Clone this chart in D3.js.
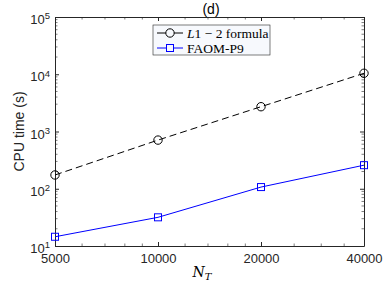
<!DOCTYPE html>
<meta charset="utf-8">
<style>
body { margin: 0; background: #fff; }
text { font-family: "Liberation Sans", Arial, sans-serif; }
.axis path, .axis line { stroke: #262626; }
.axis text { fill: #262626; font-size: 13px; }
</style>
<svg width="390" height="288"></svg>
<script src="https://cdn.jsdelivr.net/npm/d3@7"></script>
<script>

var nT = [5000, 10000, 20000, 40000],
    l12 = [174, 708, 2710, 10400],
    faom = [14.5, 31.7, 107, 258],
    xTicks = [5000, 10000, 20000, 40000],
    xMinor = [6000, 7000, 8000, 9000, 12000, 14000, 16000, 18000, 25000, 30000, 35000],
    yTicks = [10, 100, 1000, 10000, 100000];

var svg = d3.select("svg"),
    margin = {top: 17, right: 26, bottom: 42, left: 55},
    width = 390 - margin.left - margin.right,
    height = 288 - margin.top - margin.bottom,
    g = svg.append("g").attr("transform", "translate(" + margin.left + "," + margin.top + ")");

var x = d3.scaleLog().base(2).domain([5000, 40000]).range([0, width]),
    y = d3.scaleLog().domain([10, 100000]).range([height, 0]);

var yMinor = [];
[10, 100, 1000, 10000].forEach(function(p) {
  for (var k = 2; k <= 9; k++) yMinor.push(p * k);
});

// minor ticks on all four sides
var minor = g.append("g").attr("stroke", "#262626").attr("stroke-width", 0.6);
xMinor.forEach(function(v) {
  minor.append("line").attr("x1", x(v)).attr("x2", x(v)).attr("y1", height).attr("y2", height - 2.5);
  minor.append("line").attr("x1", x(v)).attr("x2", x(v)).attr("y1", 0).attr("y2", 2.5);
});
yMinor.forEach(function(v) {
  minor.append("line").attr("y1", y(v)).attr("y2", y(v)).attr("x1", 0).attr("x2", 2.5);
  minor.append("line").attr("y1", y(v)).attr("y2", y(v)).attr("x1", width).attr("x2", width - 2.5);
});

g.append("g")
    .attr("class", "axis")
    .attr("transform", "translate(0," + height + ")")
    .call(d3.axisBottom(x).tickValues(xTicks).tickSizeInner(-4).tickSizeOuter(0).tickPadding(8).tickFormat(d3.format("d")));

g.append("g")
    .attr("class", "axis")
    .call(d3.axisTop(x).tickValues(xTicks).tickSizeInner(-4).tickSizeOuter(0).tickFormat(""));

var yAxis = g.append("g")
    .attr("class", "axis")
    .call(d3.axisLeft(y).tickValues(yTicks).tickSizeInner(-4).tickSizeOuter(0).tickFormat(""));

g.append("g")
    .attr("class", "axis")
    .attr("transform", "translate(" + width + ",0)")
    .call(d3.axisRight(y).tickValues(yTicks).tickSizeInner(-4).tickSizeOuter(0).tickFormat(""));

yAxis.selectAll(".tick").append("text")
    .attr("x", -5)
    .attr("dy", "0.5em")
    .attr("text-anchor", "end")
    .attr("fill", "#262626")
    .style("font-size", "13px")
    .each(function(d) {
      var t = d3.select(this);
      t.append("tspan").text("10");
      t.append("tspan").attr("dy", "-0.5em").style("font-size", "9.5px").text(Math.round(Math.log10(d)));
    });

var line = d3.line()
    .x(function(d, i) { return x(nT[i]); })
    .y(function(d) { return y(d); });

g.append("path")
    .datum(l12)
    .attr("fill", "none")
    .attr("stroke", "#000")
    .attr("stroke-width", 1)
    .attr("stroke-dasharray", "7,4")
    .attr("d", line);

g.append("path")
    .datum(faom)
    .attr("fill", "none")
    .attr("stroke", "#0000ff")
    .attr("stroke-width", 1)
    .attr("d", line);

g.selectAll(".circ")
    .data(l12)
  .enter().append("circle")
    .attr("cx", function(d, i) { return x(nT[i]); })
    .attr("cy", function(d) { return y(d); })
    .attr("r", 4.2)
    .attr("fill", "none")
    .attr("stroke", "#000");

g.selectAll(".sq")
    .data(faom)
  .enter().append("rect")
    .attr("x", function(d, i) { return x(nT[i]) - 3.5; })
    .attr("y", function(d) { return y(d) - 3.5; })
    .attr("width", 7)
    .attr("height", 7)
    .attr("fill", "none")
    .attr("stroke", "#0000ff");

// title and labels
svg.append("text")
    .attr("x", 211)
    .attr("y", 14)
    .attr("text-anchor", "middle")
    .style("font-size", "14px")
    .attr("fill", "#000")
    .text("(d)");

svg.append("text")
    .attr("x", 202)
    .attr("y", 277)
    .attr("text-anchor", "middle")
    .style("font-family", "'DejaVu Serif', 'Liberation Serif', serif")
    .style("font-style", "italic")
    .style("font-size", "14px")
    .attr("fill", "#000")
    .html('N<tspan dy="3" style="font-size:10px">T</tspan>');

svg.append("text")
    .attr("transform", "translate(24," + (margin.top + height / 2) + ") rotate(-90)")
    .attr("text-anchor", "middle")
    .style("font-size", "14px")
    .attr("fill", "#262626")
    .text("CPU time (s)");

// legend
var leg = svg.append("g").attr("transform", "translate(153,25)");
leg.append("rect")
    .attr("width", 117)
    .attr("height", 30)
    .attr("fill", "#f7f9fd")
    .attr("stroke", "#262626")
    .attr("stroke-width", 0.6);

var legItems = [
  {color: "#000", marker: "circle", label: "1 \u2212 2 formula", italic: "L"},
  {color: "#0000ff", marker: "square", label: "FAOM-P9", italic: ""}
];

legItems.forEach(function(d, i) {
  var cy = 8 + i * 15;
  leg.append("line").attr("x1", 4).attr("x2", 30).attr("y1", cy).attr("y2", cy).attr("stroke", d.color);
  if (d.marker === "circle") {
    leg.append("circle").attr("cx", 17).attr("cy", cy).attr("r", 4.2).attr("fill", "#f7f9fd").attr("stroke", d.color);
  } else {
    leg.append("rect").attr("x", 13.5).attr("y", cy - 3.5).attr("width", 7).attr("height", 7).attr("fill", "#f7f9fd").attr("stroke", d.color);
  }
  var t = leg.append("text")
      .attr("x", 34)
      .attr("y", cy + 4.5)
      .style("font-family", "'Liberation Serif', 'DejaVu Serif', serif")
      .style("font-size", "13.5px")
      .attr("fill", "#000");
  if (d.italic) t.append("tspan").style("font-style", "italic").text(d.italic);
  t.append("tspan").text(d.label);
});

</script>
